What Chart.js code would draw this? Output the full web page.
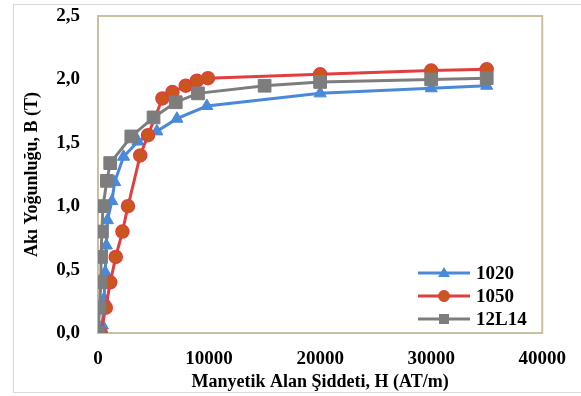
<!DOCTYPE html>
<html>
<head>
<meta charset="utf-8">
<script src="https://cdn.jsdelivr.net/npm/chart.js@4.4.1/dist/chart.umd.min.js"></script>
<style>
html,body{margin:0;padding:0;background:#fff;}
#wrap{position:relative;width:581px;height:396px;overflow:hidden;}
#frame{position:absolute;left:13px;top:4px;width:620px;height:389px;border:1px solid #d9d9d9;box-sizing:border-box;}
#c{position:absolute;left:0;top:0;}
#legend{position:absolute;left:416px;top:261px;font:bold 19px "Liberation Serif","Times New Roman",serif;color:#000;}
.row{height:23px;display:flex;align-items:center;}
.row svg{margin-right:4px;}
</style>
</head>
<body>
<div id="wrap">
<div id="frame"></div>
<canvas id="c" width="581" height="396"></canvas>
<div id="legend"></div>
</div>
<script>
// ---- data ----
const seriesNames = ['1020', '1050', '12L14'];
const h1020 = [400, 550, 650, 750, 850, 1250, 1500, 2300, 3600, 5300, 7100, 9800, 20000, 30000, 35000];
const b1020 = [0.06, 0.27, 0.48, 0.69, 0.89, 1.04, 1.19, 1.39, 1.51, 1.59, 1.69, 1.79, 1.89, 1.93, 1.95];
const h1050 = [250, 700, 1100, 1600, 2200, 2700, 3800, 4500, 5800, 6700, 7900, 8900, 9900, 20000, 30000, 35000];
const b1050 = [0.0, 0.2, 0.4, 0.6, 0.8, 1.0, 1.4, 1.56, 1.85, 1.9, 1.95, 1.99, 2.01, 2.04, 2.07, 2.08];
const h12L14 = [0, 150, 250, 270, 350, 450, 800, 1100, 3000, 5000, 7000, 9000, 15000, 20000, 30000, 35000];
const b12L14 = [0.0, 0.2, 0.4, 0.6, 0.8, 1.0, 1.2, 1.34, 1.55, 1.7, 1.82, 1.89, 1.95, 1.98, 2.0, 2.01];
const yTickLabels = ['0,0', '0,5', '1,0', '1,5', '2,0', '2,5'];
const xTickLabels = ['0', '10000', '20000', '30000', '40000'];
const xTitle = 'Manyetik Alan Şiddeti, H (AT/m)';
const yTitle = 'Akı Yoğunluğu, B (T)';

const colBlue = '#4a89d9';
const colRed = '#df3f3f';
const colRedFill = '#c9561c';
const colGray = '#7d7d7d';
const serif = '"Liberation Serif","Times New Roman",serif';

function pts(h, b) { return h.map((v, i) => ({x: v, y: b[i]})); }

const frameBorder = {
  id: 'frameBorder',
  beforeDatasetsDraw(chart) {
    const a = chart.chartArea, ctx = chart.ctx;
    ctx.save();
    ctx.strokeStyle = '#c9c0a0';
    ctx.lineWidth = 2;
    ctx.strokeRect(a.left, a.top, a.right - a.left, a.bottom - a.top);
    ctx.restore();
  }
};

new Chart(document.getElementById('c'), {
  type: 'line',
  data: {
    datasets: [
      {label: seriesNames[0], data: pts(h1020, b1020), borderColor: colBlue, backgroundColor: colBlue,
       pointStyle: 'triangle', pointRadius: 7, pointBorderWidth: 1, borderWidth: 3, order: 3},
      {label: seriesNames[1], data: pts(h1050, b1050), borderColor: colRed, backgroundColor: colRedFill,
       pointBorderColor: colRed, pointStyle: 'circle', pointRadius: 6.5, pointBorderWidth: 1.5, borderWidth: 3, order: 2},
      {label: seriesNames[2], data: pts(h12L14, b12L14), borderColor: colGray, backgroundColor: colGray,
       pointStyle: 'rect', pointRadius: 9, pointBorderWidth: 1, borderWidth: 3, order: 1}
    ]
  },
  options: {
    responsive: false,
    animation: false,
    layout: {padding: {left: 0, right: 35, top: 16, bottom: 0}},
    plugins: {legend: {display: false}, tooltip: {enabled: false}},
    elements: {line: {tension: 0}},
    scales: {
      x: {
        type: 'linear', min: 0, max: 40000,
        grid: {display: false, drawTicks: false},
        border: {display: false},
        ticks: {stepSize: 10000, padding: 15, color: '#000',
          font: {family: serif, size: 19, weight: 'bold'},
          callback: (v) => xTickLabels[Math.round(v / 10000)]},
        title: {display: true, text: xTitle, color: '#000', padding: {top: 0, bottom: 3},
          font: {family: serif, size: 18, weight: 'bold'}},
        afterFit: (s) => { s.height = 63; }
      },
      y: {
        type: 'linear', min: 0, max: 2.5,
        grid: {display: false, drawTicks: false},
        border: {display: false},
        ticks: {stepSize: 0.5, padding: 18, color: '#000',
          font: {family: serif, size: 19, weight: 'bold'},
          callback: (v) => yTickLabels[Math.round(v / 0.5)]},
        title: {display: true, text: yTitle, color: '#000', padding: {top: 22, bottom: 0},
          font: {family: serif, size: 18, weight: 'bold'}},
        afterFit: (s) => { s.width = 98; s.paddingTop = 0; s.paddingBottom = 0; }
      }
    }
  },
  plugins: [frameBorder]
});

// HTML legend
const legendSpec = [
  {name: seriesNames[0], color: colBlue, fill: colBlue, shape: 'tri'},
  {name: seriesNames[1], color: colRed, fill: colRedFill, shape: 'circ'},
  {name: seriesNames[2], color: colGray, fill: colGray, shape: 'sq'}
];
const lg = document.getElementById('legend');
legendSpec.forEach(s => {
  let m = '';
  if (s.shape === 'tri') m = `<polygon points="28,4 34,14 22,14" fill="${s.fill}"/>`;
  if (s.shape === 'circ') m = `<circle cx="28" cy="10" r="5.5" fill="${s.fill}" stroke="${s.color}" stroke-width="1"/>`;
  if (s.shape === 'sq') m = `<rect x="23" y="5" width="10" height="10" fill="${s.fill}"/>`;
  const row = document.createElement('div');
  row.className = 'row';
  row.innerHTML = `<svg width="56" height="20"><line x1="2" y1="10" x2="54" y2="10" stroke="${s.color}" stroke-width="3"/>${m}</svg><span>${s.name}</span>`;
  lg.appendChild(row);
});
</script>
</body>
</html>
